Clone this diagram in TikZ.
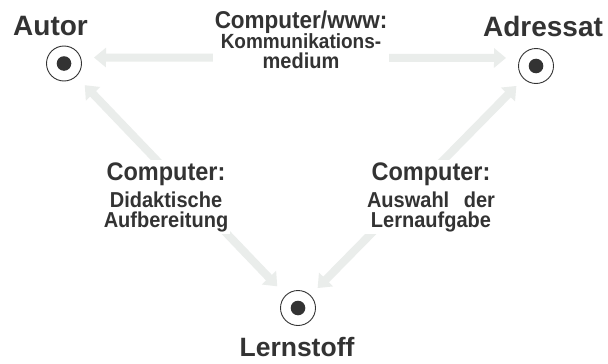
\documentclass[tikz,border=0pt]{standalone}
\usepackage{fontspec}
\setmainfont{Liberation Sans}
\usetikzlibrary{arrows.meta}

\definecolor{ink}{HTML}{333333}
\definecolor{haze}{HTML}{EAEDEB}

\tikzset{
  spot/.style={circle, draw=ink, line width=0.9pt, fill=white,
    minimum size=35pt, inner sep=0pt,
    path picture={\fill[ink] (path picture bounding box.center) circle (7.3pt);}},
  rolename/.style={anchor=base, text=ink, font=\bfseries\fontsize{28}{28}\selectfont, inner sep=0pt},
  medium/.style={anchor=base, text=ink, align=center, fill=white, inner sep=2pt,
    yscale=1.08, transform shape,
    font=\bfseries\fontsize{20}{18.5}\selectfont},
  flow/.style={haze, line width=8pt,
    {Triangle[width=19pt,length=12pt]}-{Triangle[width=19pt,length=12pt]}},
}

\begin{document}
\begin{tikzpicture}[x=1pt, y=-1pt]
  \fill[white] (0,0) rectangle (608,364);
  \useasboundingbox (0,0) rectangle (608,364);

  % the three participants
  \node[spot] (autor)     at (64,63.5) {};
  \node[spot] (adressat)  at (536,66)  {};
  \node[spot] (lernstoff) at (298,308) {};

  \node[rolename] (autorname)     at (50.5,35) {Autor};
  \node[rolename] (adressatname)  at (543,36)  {Adressat};
  \node[rolename, font=\bfseries\fontsize{26.5}{26.5}\selectfont] (lernstoffname) at (297,356) {Lernstoff};

  % broad pale arrows between them
  \draw[flow, shorten <=30pt, shorten >=30pt]
    ([yshift=6pt]autor.center) -- ([yshift=8pt]adressat.center);
  \draw[flow, shorten <=30pt, shorten >=30pt] (autor.center) -- (lernstoff.center);
  \draw[flow, shorten <=28pt, shorten >=28pt] (adressat.center) -- (lernstoff.center);

  % labels of the three roles of the computer (anchored at the last line)
  \node[medium] (kommunikation) at (301,68)
    {{\fontsize{22.5}{18.5}\selectfont Computer/www:}\\
     {\fontsize{19}{18.5}\selectfont Kommunikations-}\\medium};
  \node[medium] (didaktik) at (166,227)
    {{\fontsize{23.5}{18.5}\selectfont Computer:}\\[4.6pt]
     Didaktische\\Aufbereitung};
  \node[medium] (auswahl) at (431,227)
    {{\fontsize{23.5}{18.5}\selectfont Computer:}\\[4.6pt]
     Auswahl\hspace{9pt} der\\Lernaufgabe};
\end{tikzpicture}
\end{document}
